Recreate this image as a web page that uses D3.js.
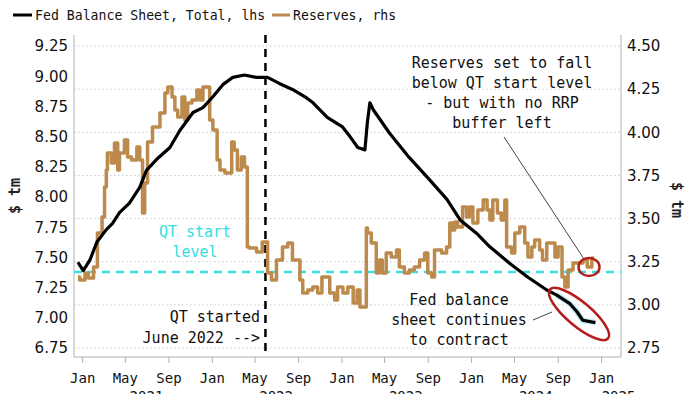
<!DOCTYPE html>
<html><head><meta charset="utf-8">
<script src="https://cdn.jsdelivr.net/npm/d3@7/dist/d3.min.js"></script>
<style>body{margin:0;background:#fff;} svg{display:block;}</style>
</head><body><svg id="c" width="700" height="394"></svg>
<script>
// ---- data ----
const fedDates = ["2020-12-20","2021-01-04","2021-01-23","2021-02-12","2021-03-10","2021-03-27","2021-04-16","2021-05-14","2021-06-12","2021-07-01","2021-07-29","2021-09-05","2021-10-03","2021-11-09","2021-12-07","2022-01-04","2022-02-01","2022-03-01","2022-04-03","2022-05-07","2022-06-07","2022-07-10","2022-08-16","2022-09-25","2022-10-13","2022-11-22","2022-12-19","2023-01-04","2023-01-25","2023-02-16","2023-03-08","2023-03-15","2023-03-22","2023-04-01","2023-05-16","2023-07-10","2023-09-07","2023-10-25","2023-12-01","2024-01-16","2024-02-22","2024-04-19","2024-06-07","2024-08-01","2024-08-28","2024-10-04","2024-10-25","2024-11-10","2024-12-16"];
const fedValues = [7.46,7.39,7.48,7.63,7.73,7.78,7.87,7.95,8.08,8.22,8.31,8.41,8.55,8.70,8.74,8.83,8.93,8.99,9.01,8.99,8.99,8.94,8.89,8.82,8.78,8.66,8.61,8.58,8.50,8.41,8.39,8.62,8.78,8.72,8.53,8.33,8.14,7.98,7.81,7.70,7.59,7.45,7.34,7.23,7.19,7.12,7.05,6.98,6.96];

const resDates = ["2020-12-20","2020-12-25","2021-01-09","2021-01-18","2021-02-02","2021-02-13","2021-02-26","2021-03-05","2021-03-10","2021-03-13","2021-03-24","2021-04-02","2021-04-11","2021-04-16","2021-04-30","2021-05-09","2021-05-20","2021-06-04","2021-06-12","2021-06-20","2021-06-26","2021-07-04","2021-07-18","2021-08-08","2021-08-22","2021-08-30","2021-09-11","2021-09-19","2021-09-27","2021-10-09","2021-10-17","2021-10-25","2021-11-06","2021-11-20","2021-11-28","2021-12-07","2021-12-18","2021-12-26","2022-01-04","2022-01-16","2022-01-24","2022-02-07","2022-02-15","2022-02-26","2022-03-05","2022-03-14","2022-03-25","2022-04-03","2022-04-11","2022-04-17","2022-05-07","2022-05-23","2022-06-07","2022-06-18","2022-07-02","2022-07-19","2022-08-03","2022-08-16","2022-08-30","2022-09-06","2022-09-14","2022-09-28","2022-10-12","2022-10-26","2022-11-07","2022-11-21","2022-11-29","2022-12-13","2022-12-21","2023-01-05","2023-01-19","2023-02-03","2023-02-14","2023-02-22","2023-03-12","2023-03-15","2023-03-26","2023-04-09","2023-04-18","2023-04-26","2023-05-07","2023-05-21","2023-06-05","2023-06-13","2023-06-27","2023-07-11","2023-07-25","2023-08-09","2023-08-23","2023-09-01","2023-09-12","2023-09-20","2023-10-10","2023-10-24","2023-11-02","2023-11-10","2023-11-16","2023-11-24","2023-12-08","2023-12-19","2023-12-27","2024-01-06","2024-01-20","2024-02-04","2024-02-15","2024-02-23","2024-03-02","2024-03-15","2024-03-26","2024-04-05","2024-04-10","2024-04-24","2024-05-03","2024-05-17","2024-05-31","2024-06-09","2024-06-20","2024-06-28","2024-07-12","2024-07-20","2024-08-01","2024-08-15","2024-08-24","2024-09-02","2024-09-13","2024-09-21","2024-09-30","2024-10-14","2024-10-28","2024-11-11","2024-11-23","2024-12-06","2024-12-12"];
const resValues = [3.161,3.144,3.185,3.156,3.219,3.416,3.509,3.683,3.781,3.880,3.822,3.938,3.781,3.880,3.955,3.857,3.839,3.915,3.839,3.532,3.706,3.944,4.031,4.112,4.228,4.262,4.204,4.129,4.089,4.204,4.071,4.170,4.187,4.245,4.187,4.262,4.262,4.071,4.013,3.839,3.781,3.764,3.764,3.944,3.897,3.781,3.857,3.799,3.335,3.329,3.306,3.364,3.185,3.144,3.260,3.335,3.358,3.260,3.260,3.144,3.069,3.086,3.103,3.069,3.161,3.161,3.069,3.028,3.103,3.069,3.103,3.011,3.086,2.988,3.445,3.416,3.358,3.185,3.260,3.185,3.300,3.277,3.318,3.219,3.185,3.202,3.219,3.260,3.300,3.185,3.161,3.318,3.300,3.335,3.474,3.434,3.480,3.451,3.567,3.509,3.567,3.474,3.550,3.608,3.550,3.492,3.608,3.532,3.492,3.608,3.335,3.300,3.416,3.451,3.358,3.277,3.335,3.376,3.318,3.260,3.358,3.358,3.277,3.335,3.161,3.103,3.202,3.243,3.243,3.260,3.219,3.271,3.271];

const leftTicks = [6.75,7.00,7.25,7.50,7.75,8.00,8.25,8.50,8.75,9.00,9.25];
const rightTicks = [2.75,3.00,3.25,3.50,3.75,4.00,4.25,4.50];
const monthTickDates = ["2021-01-01","2021-05-01","2021-09-01","2022-01-01","2022-05-01","2022-09-01","2023-01-01","2023-05-01","2023-09-01","2024-01-01","2024-05-01","2024-09-01","2025-01-01"];
const monthTickLabels = ["Jan","May","Sep","Jan","May","Sep","Jan","May","Sep","Jan","May","Sep","Jan"];
const yearLabels = ["2021","2022","2023","2024","2025"];
const yearLabelDates = ["2021-07-01","2022-07-01","2023-07-01","2024-07-01","2025-02-19"];
const qtStartDate = "2022-06-01";
const qtStartReserves = 3.19;
const contractFrom = "2024-08-24";

// ---- drawing ----
const P = d3.timeParse("%Y-%m-%d");
const svg = d3.select("#c");
const L = 74, R = 621, T = 35, B = 357;
const x = d3.scaleTime().domain([P("2020-12-09"), P("2025-02-26")]).range([L, R]);
const yL = d3.scaleLinear().domain([6.75, 9.25]).range([348, 46]);
const yR = d3.scaleLinear().domain([2.75, 4.50]).range([348, 46]);

const mono = "'DejaVu Sans Mono', monospace";
const sans = "'DejaVu Sans', Verdana, sans-serif";

// gridlines (at right-axis ticks)
svg.append("g").selectAll("line").data(rightTicks).join("line")
  .attr("x1", L).attr("x2", R).attr("y1", d => yR(d)).attr("y2", d => yR(d))
  .attr("stroke", "#c8c8c8").attr("stroke-width", 1).attr("stroke-dasharray", "1.5,2.5");

// axis frame
svg.append("line").attr("x1", L).attr("x2", L).attr("y1", T).attr("y2", B).attr("stroke", "#b0b0b0");
svg.append("line").attr("x1", R).attr("x2", R).attr("y1", T).attr("y2", B).attr("stroke", "#b0b0b0");
svg.append("line").attr("x1", L).attr("x2", R).attr("y1", B).attr("y2", B).attr("stroke", "#b0b0b0");

// bottom axis
const xAxis = d3.axisBottom(x).tickValues(monthTickDates.map(P)).tickSize(6)
  .tickFormat((d, i) => monthTickLabels[i]);
const gx = svg.append("g").attr("transform", `translate(0,${B})`).call(xAxis);
gx.select(".domain").remove();
gx.selectAll(".tick line").attr("stroke", "#b0b0b0");
gx.selectAll(".tick text").attr("font-family", mono).attr("font-size", 14).attr("fill", "#111").attr("dy", "1.2em");

svg.append("g").selectAll("text").data(yearLabels).join("text")
  .attr("x", (d, i) => x(P(yearLabelDates[i]))).attr("y", 401)
  .attr("text-anchor", "middle").attr("font-family", mono).attr("font-size", 14).attr("fill", "#111")
  .text(d => d);

// left axis
const gl = svg.append("g").attr("transform", `translate(${L},0)`)
  .call(d3.axisLeft(yL).tickValues(leftTicks).tickSize(0).tickPadding(6).tickFormat(d3.format(".2f")));
gl.select(".domain").remove();
gl.selectAll("text").attr("font-family", sans).attr("font-size", 15).attr("fill", "#111");

// right axis
const gr = svg.append("g").attr("transform", `translate(${R},0)`)
  .call(d3.axisRight(yR).tickValues(rightTicks).tickSize(0).tickPadding(6).tickFormat(d3.format(".2f")));
gr.select(".domain").remove();
gr.selectAll("text").attr("font-family", sans).attr("font-size", 15).attr("fill", "#111");

// axis titles
svg.append("text").attr("transform", "translate(20,196) rotate(-90)").attr("text-anchor", "middle")
  .attr("font-family", mono).attr("font-size", 15).attr("font-weight", "bold").attr("fill", "#222").text("$ tm");
svg.append("text").attr("transform", "translate(672,200) rotate(90)").attr("text-anchor", "middle")
  .attr("font-family", mono).attr("font-size", 15).attr("font-weight", "bold").attr("fill", "#222").text("$ tm");

// QT start level (cyan dashed)
svg.append("line").attr("x1", L).attr("x2", R).attr("y1", yR(qtStartReserves)).attr("y2", yR(qtStartReserves))
  .attr("stroke", "#3fdede").attr("stroke-width", 2.5).attr("stroke-dasharray", "8,6");

// QT start date (black dashed vertical)
svg.append("line").attr("x1", x(P(qtStartDate))).attr("x2", x(P(qtStartDate))).attr("y1", T).attr("y2", B)
  .attr("stroke", "#000").attr("stroke-width", 2.5).attr("stroke-dasharray", "8,6");

// series
const res = resDates.map((d, i) => ({ d: P(d), v: resValues[i] }));
const fed = fedDates.map((d, i) => ({ d: P(d), v: fedValues[i] }));

svg.append("path").datum(res)
  .attr("d", d3.line().x(p => x(p.d)).y(p => yR(p.v)).curve(d3.curveStepAfter))
  .attr("fill", "none").attr("stroke", "#bb8a4c").attr("stroke-width", 3.5).attr("stroke-linejoin", "round");

// light highlight under contracting part
svg.append("path").datum(fed.filter(p => p.d >= P(contractFrom)))
  .attr("d", d3.line().x(p => x(p.d)).y(p => yL(p.v)))
  .attr("fill", "none").attr("stroke", "#c4f0f6").attr("stroke-width", 6).attr("stroke-linejoin", "round");

svg.append("path").datum(fed)
  .attr("d", d3.line().x(p => x(p.d)).y(p => yL(p.v)))
  .attr("fill", "none").attr("stroke", "#000").attr("stroke-width", 3.2).attr("stroke-linejoin", "round");

// annotations
function block(lines, cx, y0, dy, color, anchor) {
  svg.append("g").selectAll("text").data(lines).join("text")
    .attr("x", cx).attr("y", (d, i) => y0 + i * dy).attr("text-anchor", anchor || "middle")
    .attr("font-family", mono).attr("font-size", 15).attr("fill", color).text(d => d);
}
block(["QT start", "level"], 195, 237, 20, "#33dede");
block(["QT started", "June 2022 -->"], 260, 322, 21, "#111", "end");
block(["Reserves set to fall", "below QT start level", "- but with no RRP", "buffer left"], 502, 68, 20, "#111");
block(["Fed balance", "sheet continues", "to contract"], 459, 305, 20, "#111");

// leader lines
svg.append("line").attr("x1", 504).attr("y1", 137).attr("x2", 584).attr("y2", 259).attr("stroke", "#444").attr("stroke-width", 1);
svg.append("line").attr("x1", 533).attr("y1", 320).attr("x2", 552).attr("y2", 312).attr("stroke", "#444").attr("stroke-width", 1);

// red circles
svg.append("ellipse").attr("cx", 589).attr("cy", 267).attr("rx", 10.5).attr("ry", 9)
  .attr("fill", "none").attr("stroke", "#b51d1d").attr("stroke-width", 2.5);
svg.append("ellipse").attr("cx", 0).attr("cy", 0).attr("rx", 38).attr("ry", 12)
  .attr("transform", "translate(579,314) rotate(40)")
  .attr("fill", "none").attr("stroke", "#b51d1d").attr("stroke-width", 2.5);

// legend
const lg = svg.append("g");
lg.append("line").attr("x1", 13).attr("x2", 32).attr("y1", 15).attr("y2", 15).attr("stroke", "#000").attr("stroke-width", 3);
lg.append("text").attr("x", 35).attr("y", 20).attr("font-family", mono).attr("font-size", 13.2).attr("fill", "#111").text("Fed Balance Sheet, Total, lhs");
lg.append("line").attr("x1", 272).attr("x2", 290).attr("y1", 15).attr("y2", 15).attr("stroke", "#bb8a4c").attr("stroke-width", 3);
lg.append("text").attr("x", 293).attr("y", 20).attr("font-family", mono).attr("font-size", 13.2).attr("fill", "#111").text("Reserves, rhs");
</script></body></html>
